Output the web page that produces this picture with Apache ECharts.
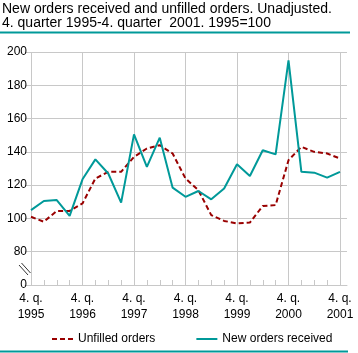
<!DOCTYPE html>
<html>
<head>
<meta charset="utf-8">
<script src="https://cdn.jsdelivr.net/npm/echarts@6/dist/echarts.min.js"></script>
<style>
  html, body { margin: 0; padding: 0; background: #fff; }
  #chart { width: 358px; height: 353px; }
</style>
</head>
<body>
<div id="chart"></div>
<script>
// quarters, 4th quarter 1995 .. 4th quarter 2001
const quarters = [
    '1995Q4',
    '1996Q1', '1996Q2', '1996Q3', '1996Q4',
    '1997Q1', '1997Q2', '1997Q3', '1997Q4',
    '1998Q1', '1998Q2', '1998Q3', '1998Q4',
    '1999Q1', '1999Q2', '1999Q3', '1999Q4',
    '2000Q1', '2000Q2', '2000Q3', '2000Q4',
    '2001Q1', '2001Q2', '2001Q3', '2001Q4'
];
// index 1995=100
const unfilledOrders = [
    101, 98, 104.5, 104.5, 109, 124, 128, 128, 137, 142, 144, 139, 124,
    117, 102, 98.5, 97, 97.5, 107.5, 108, 135, 143, 140, 139, 136
];
const newOrders = [
    105, 110.5, 111, 101.5, 123.5, 135.5, 127, 109.5, 150.5, 131, 148.5, 118.5, 113,
    116.5, 111.5, 118, 132.5, 125.5, 141, 138.5, 195, 128, 127.5, 124.5, 128
];
const yTicks = [60, 80, 100, 120, 140, 160, 180, 200]; // 60 is shown as 0 (broken axis)

const teal = '#009999';
const darkRed = '#990000';
const gridGrey = '#c8c8c8';
const font = 'Liberation Sans, Arial, sans-serif';

const chart = echarts.init(document.getElementById('chart'), null, { renderer: 'canvas' });

chart.setOption({
    animation: false,
    title: {
        text: 'New orders received and unfilled orders. Unadjusted.\n4. quarter 1995-4. quarter  2001. 1995=100',
        left: 2,
        top: 2,
        padding: 0,
        textStyle: { fontFamily: font, fontSize: 14, fontWeight: 'normal', color: '#000', lineHeight: 14 }
    },
    grid: [
        { left: 31, top: 52, width: 309, height: 233 },
        { left: 25, top: 52, width: 322, height: 233 }
    ],
    xAxis: [{
        gridIndex: 0,
        type: 'category',
        data: quarters,
        boundaryGap: false,
        axisLine: { show: false },
        axisTick: { show: true, inside: true, length: 5, interval: 0, lineStyle: { color: gridGrey } },
        splitLine: { show: true, interval: 3, lineStyle: { color: gridGrey, width: 1 } },
        axisLabel: {
            interval: 3,
            margin: 6,
            fontFamily: font,
            fontSize: 12,
            lineHeight: 16,
            color: '#000',
            formatter: q => '4. q.\n' + q.slice(0, 4)
        }
    }, {
        gridIndex: 1,
        type: 'value',
        min: 0,
        max: 1,
        axisLine: { show: true, lineStyle: { color: gridGrey } },
        axisTick: { show: false },
        axisLabel: { show: false },
        splitLine: { show: false }
    }],
    yAxis: [{
        gridIndex: 0,
        type: 'value',
        min: yTicks[0],
        max: yTicks[yTicks.length - 1],
        interval: 20,
        axisLine: { show: false },
        axisTick: { show: false },
        splitLine: { show: false },
        axisLabel: {
            margin: 4,
            fontFamily: font,
            fontSize: 12,
            color: '#000',
            formatter: v => v === yTicks[0] ? '0' : String(v)
        }
    }, {
        gridIndex: 1,
        type: 'value',
        min: yTicks[0],
        max: yTicks[yTicks.length - 1],
        interval: 20,
        axisLine: { show: false },
        axisTick: { show: false },
        axisLabel: { show: false },
        splitLine: { show: true, lineStyle: { color: gridGrey, width: 1 } }
    }],
    legend: {
        left: 51,
        top: 333,
        padding: 0,
        itemWidth: 21,
        itemHeight: 10,
        itemGap: 40,
        itemStyle: { opacity: 0 },
        textStyle: { fontFamily: font, fontSize: 12, color: '#000' },
        data: ['Unfilled orders', 'New orders received']
    },
    series: [{
        name: 'Unfilled orders',
        type: 'line',
        xAxisIndex: 0,
        yAxisIndex: 0,
        data: unfilledOrders,
        symbol: 'none',
        lineStyle: { color: darkRed, width: 2, type: [5, 3] },
        itemStyle: { color: darkRed }
    }, {
        name: 'New orders received',
        type: 'line',
        xAxisIndex: 0,
        yAxisIndex: 0,
        data: newOrders,
        symbol: 'none',
        lineStyle: { color: teal, width: 2 },
        itemStyle: { color: teal }
    }],
    graphic: [
        // rule under the title
        { type: 'line', shape: { x1: 0, y1: 32.5, x2: 350, y2: 32.5 }, style: { stroke: teal, lineWidth: 2 } },
        // rule at the bottom
        { type: 'line', shape: { x1: 0, y1: 351.5, x2: 348, y2: 351.5 }, style: { stroke: teal, lineWidth: 2 } },
        // axis break mark
        { type: 'line', shape: { x1: 19, y1: 265, x2: 28, y2: 275 }, style: { stroke: '#333', lineWidth: 1 } },
        { type: 'line', shape: { x1: 21.5, y1: 263, x2: 30.5, y2: 273 }, style: { stroke: '#333', lineWidth: 1 } }
    ]
});
</script>
</body>
</html>
